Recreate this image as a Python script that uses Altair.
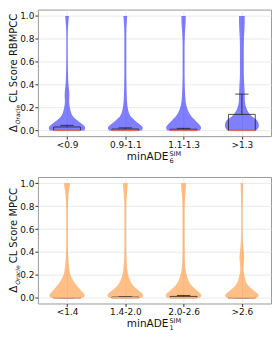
import json
import altair as alt
import pandas as pd

# ---------------- data ----------------
y_levels = [0, 0.02, 0.04, 0.06, 0.08, 0.1, 0.12, 0.15, 0.2, 0.25, 0.3, 0.35,
            0.4, 0.5, 0.6, 0.7, 0.8, 0.9, 0.95, 1.0]

top_cats = ["<0.9", "0.9-1.1", "1.1-1.3", ">1.3"]
top_density = [
    [18, 19, 18, 15, 12, 9, 6.5, 4.5, 3, 2.2, 2.5, 2.2, 1.5, 1, 0.8, 0.7, 0.7, 1, 1.5, 2],
    [17, 18.3, 17, 14, 11, 8.5, 6, 4, 2.5, 1.8, 1.5, 1.3, 1.2, 1, 1, 1, 1, 1.2, 1.6, 2],
    [17, 18.3, 17.5, 15.5, 13, 11, 8.5, 6, 3.5, 2.2, 1.7, 1.4, 1.2, 1, 1, 1, 1.2, 1.8, 2.2, 2.3],
    [15, 17, 17.8, 17.5, 16.5, 14.5, 11, 7.5, 4.5, 3.2, 3, 2.8, 2.5, 2, 2, 2, 2.2, 2.8, 3, 3],
]
top_q1 = [0, 0, 0, 0]
top_median = [0, 0, 0, 0]
top_q3 = [0.03, 0.012, 0.01, 0.14]
top_whisker = [0.044, 0.022, 0.018, 0.317]

bot_cats = ["<1.4", "1.4-2.0", "2.0-2.6", ">2.6"]
bot_density = [
    [17, 18.5, 17.5, 15, 13, 11, 9, 6.5, 3.5, 2.5, 1.8, 1.3, 1, 0.8, 0.8, 0.8, 0.9, 1.5, 2.5, 3.2],
    [17, 18.8, 17.5, 14.5, 11.5, 9, 7, 5, 3, 2, 1.5, 1.2, 1, 0.9, 0.9, 0.9, 1, 1.5, 2.2, 2.6],
    [17, 18.7, 17.5, 14.5, 11.7, 9.2, 7.2, 5.2, 3.2, 2, 1.5, 1.3, 1.2, 1.1, 1.1, 1.1, 1.2, 1.8, 2.4, 2.7],
    [16, 17.5, 16, 13, 10, 7.5, 5.5, 4, 2.5, 1.6, 2, 2.5, 2, 1, 0.7, 0.7, 0.8, 1, 1.2, 1.3],
]
bot_q1 = [0, 0, 0, 0]
bot_median = [0, 0, 0, 0]
bot_q3 = [0, 0.006, 0.012, 0]
bot_whisker = [0, 0.008, 0.02, 0]

# ---------------- layout ----------------
W = 234
H = 127
DENS_SCALE = 1 / 61.0   # density units -> category units
BOX_HALF = 0.23
CAP_HALF = 0.115
FONT = "DejaVu Sans"


def make_panel(cats, density, q1, median, q3, whisker, fill, med_color,
               main_title, sub_digit, main_len):
    vrows = []
    for i, dens in enumerate(density):
        for y, d in zip(y_levels, dens):
            hw = d * DENS_SCALE
            vrows.append({"cat": cats[i], "ya": y, "xa": i - hw, "xb": i + hw})
    vdf = pd.DataFrame(vrows)

    brows = []
    for i in range(len(cats)):
        brows.append({"cat": cats[i], "c": i,
                      "xa": i - BOX_HALF, "xb": i + BOX_HALF,
                      "ca": i - CAP_HALF, "cb": i + CAP_HALF,
                      "q1": q1[i], "q3": q3[i], "med": median[i], "wh": whisker[i]})
    bdf = pd.DataFrame(brows)

    xs = alt.Scale(domain=[-0.5, 3.5], nice=False, zero=False)
    ys = alt.Scale(domain=[-0.05, 1.055], nice=False, zero=False)
    label_expr = json.dumps(cats) + "[round(datum.value)]"
    xaxis = alt.Axis(values=[0, 1, 2, 3], labelExpr=label_expr, title=None,
                     grid=True, domain=False, tickSize=3, labelPadding=1.5)
    yaxis = alt.Axis(values=[0, 0.2, 0.4, 0.6, 0.8, 1.0], format=".1f", title=None,
                     grid=True, domain=False, tickSize=3, labelPadding=1)

    violin = alt.Chart(vdf).mark_area(
        orient="horizontal", interpolate="monotone", color=fill, opacity=0.5
    ).encode(
        y=alt.Y("ya:Q", scale=ys, axis=yaxis),
        x=alt.X("xa:Q", scale=xs, axis=xaxis),
        x2="xb:Q",
        detail="cat:N",
    )

    box = alt.Chart(bdf).mark_rect(
        fill=None, filled=False, stroke="#1a1a1a", strokeWidth=0.9, opacity=0.85
    ).encode(
        x=alt.X("xa:Q", scale=xs, axis=xaxis), x2="xb:Q",
        y=alt.Y("q1:Q", scale=ys, axis=yaxis), y2="q3:Q",
    )
    whisk = alt.Chart(bdf).mark_rule(color="#1a1a1a", strokeWidth=0.9, opacity=0.85).encode(
        x=alt.X("c:Q", scale=xs, axis=xaxis),
        y=alt.Y("q3:Q", scale=ys, axis=yaxis), y2="wh:Q",
    )
    cap = alt.Chart(bdf).mark_rule(color="#1a1a1a", strokeWidth=0.9, opacity=0.85).encode(
        x=alt.X("ca:Q", scale=xs, axis=xaxis), x2="cb:Q",
        y=alt.Y("wh:Q", scale=ys, axis=yaxis),
    )
    med = alt.Chart(bdf).mark_rule(color=med_color, strokeWidth=1.4).encode(
        x=alt.X("xa:Q", scale=xs, axis=xaxis), x2="xb:Q",
        y=alt.Y("med:Q", scale=ys, axis=yaxis),
    )

    one = pd.DataFrame({"k": [0]})

    def txt(text, x, y, size, angle=0, align="left", italic=False, baseline="middle"):
        kw = dict(text=text, font=FONT, fontSize=size, align=align,
                  baseline=baseline, color="#111111")
        if angle:
            kw["angle"] = angle
        if italic:
            kw["fontStyle"] = "italic"
        return alt.Chart(one).mark_text(**kw).encode(x=alt.value(x), y=alt.value(y))

    # y title: Δ_Oracle main
    total = 7 + 1 + 19.5 + 2 + main_len
    start = H / 2 + total / 2
    t1 = txt("Δ", -24, start, 10.5, angle=270)
    t2 = txt("Oracle", -20, start - 8, 6, angle=270, italic=True)
    t3 = txt(main_title, -24, start - 8 - 21.5, 10, angle=270)

    # x title: minADE with sub/superscript
    xt1 = txt("minADE", W / 2 + 14, H + 23.5, 10.5, align="right", baseline="alphabetic")
    xt2 = txt("SIM", W / 2 + 15, H + 19.5, 6.5, baseline="alphabetic")
    xt3 = txt(sub_digit, W / 2 + 15, H + 26.5, 6.5, baseline="alphabetic")

    return alt.layer(violin, box, whisk, cap, med, t1, t2, t3, xt1, xt2, xt3).properties(
        width=W, height=H
    )


top = make_panel(top_cats, top_density, top_q1, top_median, top_q3, top_whisker,
                 "#0000ff", "#d9705e", "CL Score RBMPCC", "6", 89.6)
bot = make_panel(bot_cats, bot_density, bot_q1, bot_median, bot_q3, bot_whisker,
                 "#ff7f0e", "#ffb47a", "CL Score MPCC", "1", 75.8)

chart = alt.vconcat(top, bot, spacing=11).properties(
    padding={"left": 0, "top": 0, "right": 0, "bottom": 0}
).configure_view(
    stroke="#9a9a9a", strokeWidth=1
).configure_axis(
    gridColor="#e4e4e4", gridWidth=0.8, tickColor="#333333",
    labelFont=FONT, labelFontSize=9, labelColor="#111111",
)

chart.save("out.html", embed_options={"renderer": "svg", "actions": False})
